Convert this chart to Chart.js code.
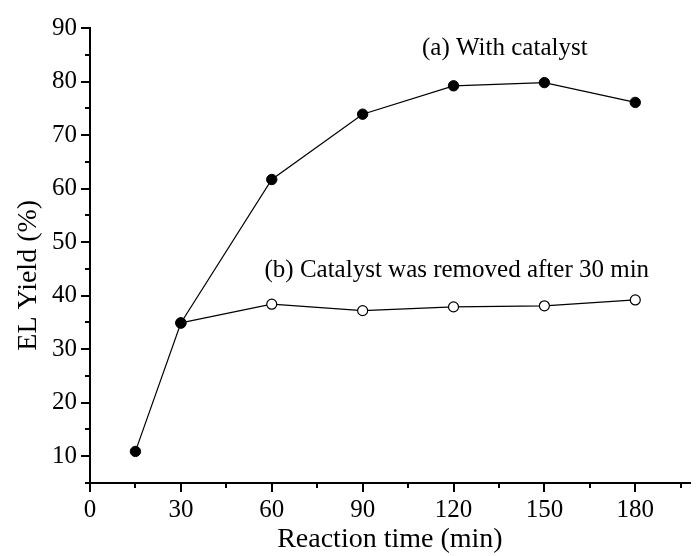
<!DOCTYPE html>
<html>
<head>
<meta charset="utf-8">
<script src="https://cdn.jsdelivr.net/npm/chart.js@4/dist/chart.umd.min.js"></script>
<style>
  html, body { margin: 0; padding: 0; background: #fff; }
  #wrap { width: 696px; height: 556px; }
</style>
</head>
<body>
<div id="wrap"><canvas id="chart" width="696" height="556"></canvas></div>
<script>
// reaction time (min)
const timeA = [15, 30, 60, 90, 120, 150, 180];
const timeB = [30, 60, 90, 120, 150, 180];
// EL yield (%)
const yieldWithCatalyst = [10.9, 34.9, 61.7, 73.9, 79.2, 79.8, 76.1];
const yieldRemoved = [34.9, 38.4, 37.2, 37.9, 38.1, 39.2];

const xTicks = [0, 30, 60, 90, 120, 150, 180];
const xMinor = [15, 45, 75, 105, 135, 165, 195];
const yTicks = [10, 20, 30, 40, 50, 60, 70, 80, 90];
const yMinor = [5, 15, 25, 35, 45, 55, 65, 75, 85];

const labelA = '(a) With catalyst';
const labelB = '(b) Catalyst was removed after 30 min';
const yTitle = 'EL Yield (%)';

const serif = '"Liberation Serif", "Times New Roman", serif';

// short minor ticks, y title and curve labels
const extras = {
    id: 'extras',
    afterDraw(chart) {
        const { ctx, chartArea, scales: { x, y } } = chart;
        ctx.save();
        ctx.strokeStyle = '#000';
        ctx.lineWidth = 2;
        ctx.beginPath();
        xMinor.forEach(v => {
            const px = Math.round(x.getPixelForValue(v));
            ctx.moveTo(px, chartArea.bottom);
            ctx.lineTo(px, chartArea.bottom + 5);
        });
        yMinor.forEach(v => {
            const py = Math.round(y.getPixelForValue(v));
            ctx.moveTo(chartArea.left, py);
            ctx.lineTo(chartArea.left - 5, py);
        });
        ctx.stroke();

        ctx.fillStyle = '#000';
        ctx.font = '25px ' + serif;
        ctx.textBaseline = 'middle';
        ctx.textAlign = 'left';
        ctx.fillText(labelA, x.getPixelForValue(109.6), y.getPixelForValue(86.1));
        ctx.fillText(labelB, x.getPixelForValue(57.6), y.getPixelForValue(44.8));

        // y title sits a bit below the middle of the axis in the original
        ctx.font = '28px ' + serif;
        ctx.textAlign = 'center';
        ctx.translate(29, y.getPixelForValue(43.8));
        ctx.rotate(-Math.PI / 2);
        ctx.fillText(yTitle, 0, 0);
        ctx.restore();
    }
};

new Chart(document.getElementById('chart'), {
    type: 'scatter',
    data: {
        datasets: [{
            label: labelA,
            data: timeA.map((t, i) => ({ x: t, y: yieldWithCatalyst[i] })),
            showLine: true,
            borderColor: '#000',
            borderWidth: 1.2,
            pointRadius: 5.2,
            pointBackgroundColor: '#000',
            pointBorderColor: '#000',
            pointBorderWidth: 1
        }, {
            label: labelB,
            data: timeB.map((t, i) => ({ x: t, y: yieldRemoved[i] })),
            showLine: true,
            borderColor: '#000',
            borderWidth: 1.2,
            pointRadius: 5,
            pointBackgroundColor: '#fff',
            pointBorderColor: '#000',
            pointBorderWidth: 1.2
        }]
    },
    options: {
        responsive: false,
        animation: false,
        clip: false,
        layout: { padding: { top: 28, right: 0, left: 0, bottom: 0 } },
        plugins: {
            legend: { display: false },
            tooltip: { enabled: false }
        },
        scales: {
            x: {
                type: 'linear',
                min: 0,
                max: 198,
                afterBuildTicks: s => { s.ticks = xTicks.map(v => ({ value: v })); },
                afterFit: s => { s.height = 73; },
                border: { display: true, color: '#000', width: 2 },
                grid: { drawOnChartArea: false, drawTicks: true, tickLength: 9, color: '#000', lineWidth: 2 },
                ticks: { color: '#000', padding: 3, maxRotation: 0, font: { family: serif, size: 25 } },
                title: {
                    display: true,
                    text: 'Reaction time (min)',
                    color: '#000',
                    font: { family: serif, size: 28, lineHeight: 1.2 },
                    padding: { top: 0, bottom: 0 }
                }
            },
            y: {
                type: 'linear',
                min: 5,
                max: 90,
                afterBuildTicks: s => { s.ticks = yTicks.map(v => ({ value: v })); },
                afterFit: s => { s.width = 90; },
                border: { display: true, color: '#000', width: 2 },
                grid: { drawOnChartArea: false, drawTicks: true, tickLength: 9, color: '#000', lineWidth: 2 },
                ticks: { color: '#000', padding: 4, font: { family: serif, size: 25 } },
                title: { display: false }
            }
        }
    },
    plugins: [extras]
});
</script>
</body>
</html>
